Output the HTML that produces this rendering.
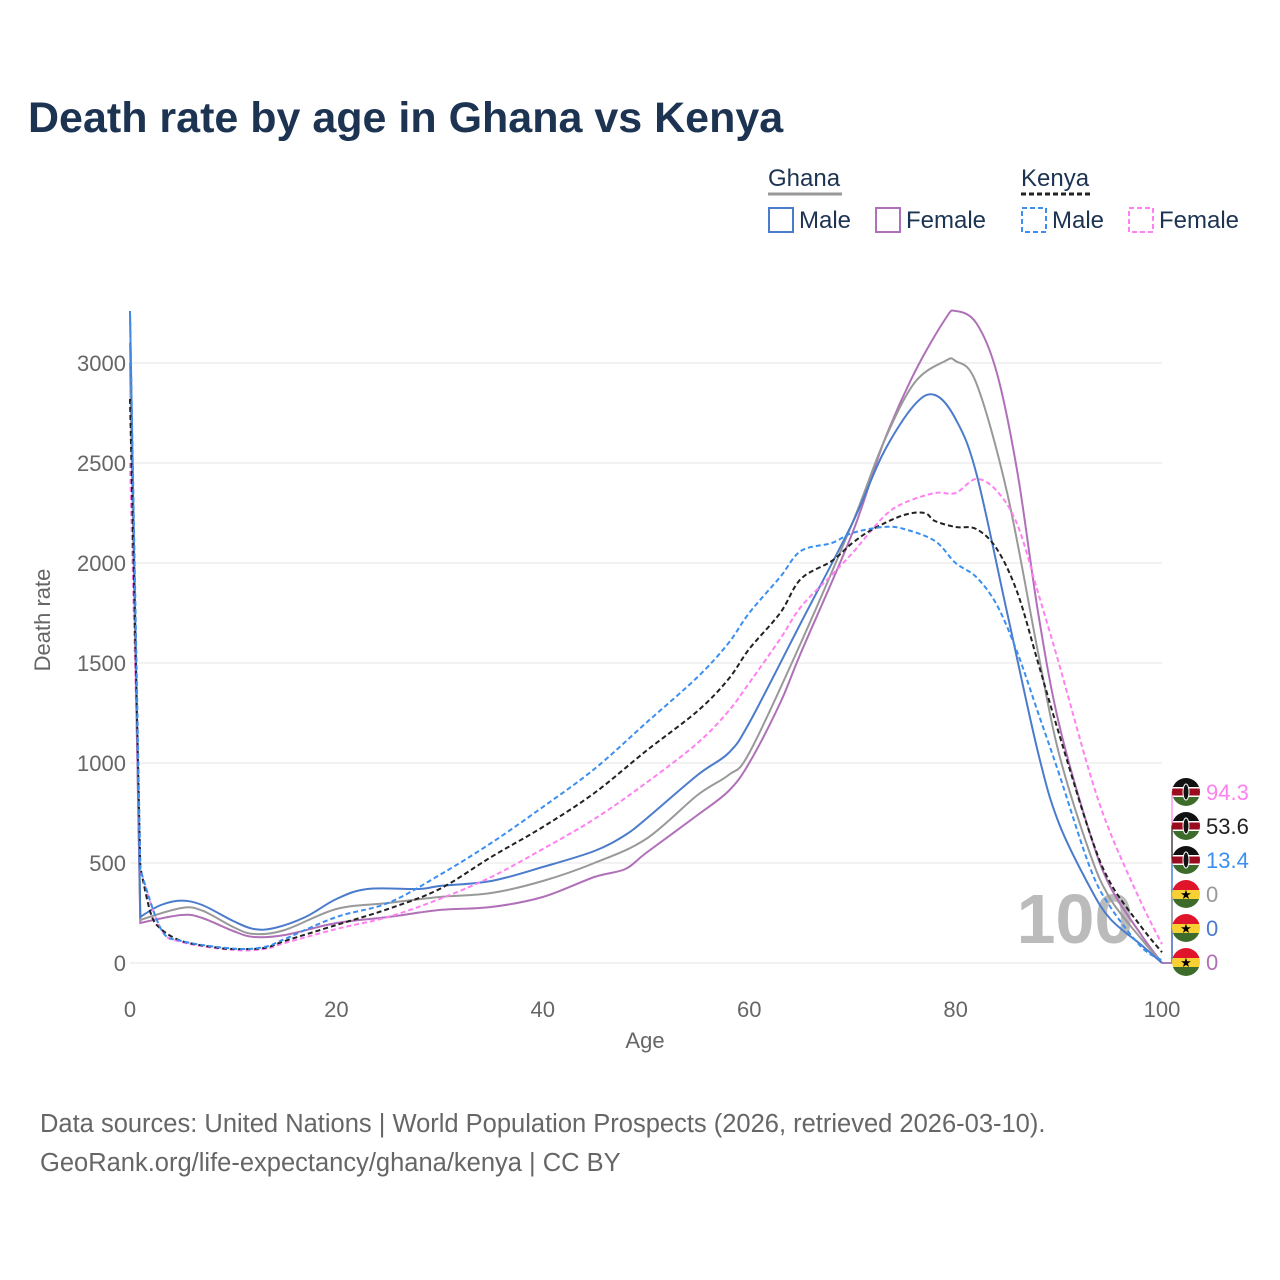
<!DOCTYPE html>
<html><head><meta charset="utf-8"><style>
body{margin:0;background:#fff;font-family:"Liberation Sans",sans-serif}
svg{display:block}
</style></head><body>
<svg width="1280" height="1280" viewBox="0 0 1280 1280">
<text x="28" y="132" font-size="43" font-weight="bold" fill="#1c3352">Death rate by age in Ghana vs Kenya</text>
<g font-size="24" fill="#1c3352">
<text x="768" y="186">Ghana</text>
<line x1="768" y1="194" x2="842" y2="194" stroke="#999" stroke-width="3"/>
<text x="1021" y="186">Kenya</text>
<line x1="1021" y1="194" x2="1093" y2="194" stroke="#222" stroke-width="3" stroke-dasharray="5,3"/>
<g><rect x="769" y="208" width="24" height="24" fill="none" stroke="#4b7bcb" stroke-width="2"/><text x="799" y="228">Male</text></g>
<g><rect x="876" y="208" width="24" height="24" fill="none" stroke="#b070b8" stroke-width="2"/><text x="906" y="228">Female</text></g>
<g><rect x="1022" y="208" width="24" height="24" fill="none" stroke="#3b8ff0" stroke-width="2" stroke-dasharray="5,3"/><text x="1052" y="228">Male</text></g>
<g><rect x="1129" y="208" width="24" height="24" fill="none" stroke="#ff80f0" stroke-width="2" stroke-dasharray="5,3"/><text x="1159" y="228">Female</text></g>
</g>
<g id="grid"></g>
<text x="1075" y="943" font-size="70" font-weight="bold" fill="#bbb" text-anchor="middle">100</text>
<g id="series"></g>
<g id="axes" font-size="22" fill="#666"></g>
<text x="645" y="1048" font-size="22" fill="#666" text-anchor="middle">Age</text>
<text transform="translate(50,620) rotate(-90)" font-size="22" fill="#666" text-anchor="middle">Death rate</text>
<g id="labels"></g>
<text x="40" y="1132" font-size="25.5" fill="#666">Data sources: United Nations | World Population Prospects (2026, retrieved 2026-03-10).</text>
<text x="40" y="1171" font-size="25.5" fill="#666">GeoRank.org/life-expectancy/ghana/kenya | CC BY</text>
</svg>
<script>
const xTicks=[0,20,40,60,80,100];
const yTicks=[0,500,1000,1500,2000,2500,3000];
const ghMaleAges=[0,1,3,5,7,10,12,14,17,20,23,28,30,35,40,45,48,50,55,58,60,65,70,73,76,78,80,82,85,88,90,93,95,98,100];
const ghMale=[3260,230,290,312,290,210,170,175,230,320,370,370,385,410,480,560,640,720,940,1050,1200,1700,2200,2550,2790,2840,2720,2450,1750,1050,700,380,220,90,0];
const ghAllAges=[0,1,5,7,10,12,15,20,25,30,35,40,45,50,55,58,60,65,70,73,76,79,80,82,85,88,90,93,95,98,100];
const ghAll=[3100,215,275,262,180,145,165,270,300,330,350,410,500,620,840,940,1050,1600,2200,2600,2900,3010,3010,2900,2350,1550,1050,550,320,120,0];
const ghFemAges=[0,1,5,7,10,12,15,20,25,30,35,40,45,48,50,55,58,60,63,65,70,73,76,79,80,82,84,86,88,90,93,95,98,100];
const ghFem=[3000,200,240,225,160,130,140,200,230,265,280,330,430,470,550,740,860,1000,1300,1550,2150,2600,2950,3220,3260,3200,2950,2450,1750,1200,650,380,140,0];
const keAllAges=[0,1,2,3,5,8,10,13,15,20,25,30,35,40,45,50,55,58,60,63,65,68,70,72,75,77,78,80,82,84,86,88,90,93,95,98,100];
const keAll=[2820,480,250,170,110,80,70,75,110,190,270,370,530,680,850,1060,1260,1420,1570,1750,1920,2010,2100,2170,2240,2250,2210,2180,2170,2070,1850,1500,1150,650,400,180,53.6];
const keMaleAges=[0,1,3,5,10,13,15,20,25,30,35,40,45,50,55,58,60,63,65,68,70,73,75,78,80,82,84,86,88,90,93,95,98,100];
const keMale=[3250,470,170,110,72,80,120,230,300,440,600,780,970,1200,1430,1600,1750,1930,2060,2100,2150,2180,2170,2110,2000,1930,1790,1550,1250,950,480,280,80,13.4];
const keFemAges=[0,1,3,5,10,13,15,20,25,30,35,40,45,50,55,58,60,63,65,68,70,73,75,78,80,82,84,86,88,90,93,95,98,100];
const keFem=[2500,460,170,105,65,70,100,170,230,320,430,570,720,900,1100,1260,1400,1620,1780,1940,2050,2230,2300,2350,2350,2420,2360,2190,1850,1500,950,650,300,94.3];
const NS="http://www.w3.org/2000/svg";
const X=a=>130+a*10.32, Y=v=>963-v*0.2;
function mk(t,p,at){const e=document.createElementNS(NS,t);for(const k in at)e.setAttribute(k,at[k]);p.appendChild(e);return e;}
const grid=document.getElementById('grid'),axes=document.getElementById('axes');
yTicks.forEach(v=>{
 const l=mk('line',grid,{x1:130,x2:1162,y1:Y(v),y2:Y(v),stroke:'#e6e6e6','stroke-width':1});
 
 
 const t=mk('text',axes,{x:126,y:Y(v)+8,'text-anchor':'end'});t.textContent=v;
 
 
});
xTicks.forEach(a=>{
 const t=mk('text',axes,{x:X(a),y:1017,'text-anchor':'middle'});t.textContent=a;
 
 
});
function path(ages,vals){
 const p=ages.map((a,i)=>[X(a),Y(vals[i])]);
 let d='M'+p[0][0]+','+p[0][1]+' L'+p[1][0]+','+p[1][1];
 for(let i=1;i<p.length-1;i++){
  const p0=p[Math.max(0,i-1)],p1=p[i],p2=p[i+1],p3=p[Math.min(p.length-1,i+2)];
  const s=i===1?0:1/6;
  d+=' C'+(p1[0]+(p2[0]-p0[0])*s)+','+(p1[1]+(p2[1]-p0[1])*s)+' '+(p2[0]-(p3[0]-p1[0])/6)+','+(p2[1]-(p3[1]-p1[1])/6)+' '+p2[0]+','+p2[1];
 }
 return d;
}
const S=document.getElementById('series');
const series=[
 ['ghana-female-line',ghFemAges,ghFem,'#b070b8',null],
 ['ghana-total-line',ghAllAges,ghAll,'#999',null],
 ['ghana-male-line',ghMaleAges,ghMale,'#4b7bcb',null],
 ['kenya-female-line',keFemAges,keFem,'#ff80f0','5,3'],
 ['kenya-total-line',keAllAges,keAll,'#222','5,3'],
 ['kenya-male-line',keMaleAges,keMale,'#3b8ff0','5,3']];
series.forEach(s=>{
 const e=mk('path',S,{d:path(s[1],s[2]),fill:'none',stroke:s[3],'stroke-width':2});
 if(s[4])e.setAttribute('stroke-dasharray',s[4]);
 
 
});
const labelVals=['94.3','53.6','13.4','0','0','0'];
const labelCols=['#ff80f0','#222','#3b8ff0','#999','#4b7bcb','#b070b8'];
const labelFlags=['kenya','kenya','kenya','ghana','ghana','ghana'];
const L=document.getElementById('labels');
labelVals.forEach((v,i)=>{
 const y=792+i*34;
 const g=mk('g',L,{});
 
 
 mk('path',g,{d:`M1162,963 L1172,963 L1172,${y} L1180,${y}`,fill:'none',stroke:labelCols[i],'stroke-width':1.2});
 const cx=1186,r=14;
 const cid='c'+i;const cp=mk('clipPath',g,{id:cid});mk('circle',cp,{cx:cx,cy:y,r:r});
 const f=mk('g',g,{'clip-path':`url(#${cid})`});
 if(labelFlags[i]==='kenya'){
  mk('rect',f,{x:cx-r,y:y-r,width:28,height:9,fill:'#111'});
  mk('rect',f,{x:cx-r,y:y-5,width:28,height:10,fill:'#9b0d1e'});
  mk('rect',f,{x:cx-r,y:y+5,width:28,height:9,fill:'#3d6b2a'});
  mk('rect',f,{x:cx-r,y:y-5,width:28,height:1.5,fill:'#fff'});mk('rect',f,{x:cx-r,y:y+3.5,width:28,height:1.5,fill:'#fff'});
  mk('ellipse',f,{cx:cx,cy:y,rx:3,ry:8,fill:'#111',stroke:'#fff','stroke-width':1});
 } else {
  mk('rect',f,{x:cx-r,y:y-r,width:28,height:10,fill:'#e0152b'});
  mk('rect',f,{x:cx-r,y:y-4,width:28,height:9,fill:'#f7d034'});
  mk('rect',f,{x:cx-r,y:y+5,width:28,height:9,fill:'#3d6b2a'});
  const st=mk('text',f,{x:cx,y:y+5,'font-size':13,'text-anchor':'middle',fill:'#000'});st.textContent='★';
 }
 const t=mk('text',g,{x:1206,y:y+8,'font-size':22,fill:labelCols[i]});t.textContent=v;
});
</script>
</body></html>
